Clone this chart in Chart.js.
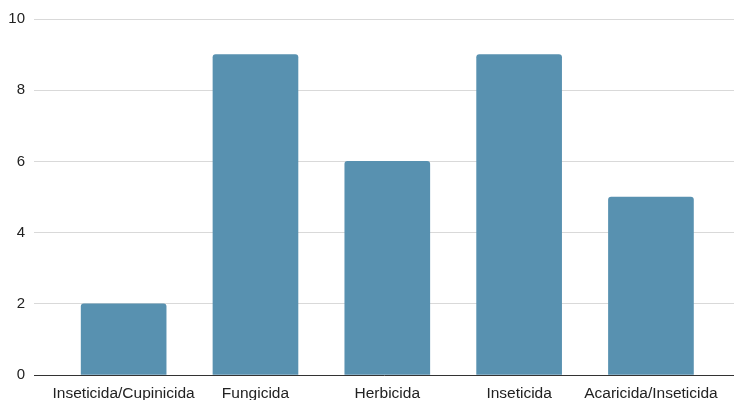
<!DOCTYPE html>
<html>
<head>
<meta charset="utf-8">
<script src="https://cdn.jsdelivr.net/npm/chart.js@4"></script>
<style>
  body { margin: 0; background: #fff; }
</style>
</head>
<body>
<canvas id="myBarChart" width="734" height="400"></canvas>
<script>
// Categories and values
const categories = ['Inseticida/Cupinicida', 'Fungicida', 'Herbicida', 'Inseticida', 'Acaricida/Inseticida'];
const counts = [2, 9, 6, 9, 5];
const yTicks = [0, 2, 4, 6, 8, 10];

const ctx = document.getElementById('myBarChart').getContext('2d');

const config = {
    type: 'bar',
    data: {
        datasets: [{
            data: counts.map((v, i) => ({ x: i, y: v })),
            backgroundColor: '#5891b0',
            borderRadius: { topLeft: 3, topRight: 3 },
            borderSkipped: 'bottom',
            barThickness: 85
        }]
    },
    options: {
        responsive: false,
        animation: false,
        layout: { padding: { top: 19, right: 0, left: 0, bottom: 0 } },
        plugins: {
            legend: { display: false },
            tooltip: { enabled: false }
        },
        scales: {
            x: {
                type: 'linear',
                offset: false,
                min: -0.68,
                max: 4.63,
                grid: { display: false, offset: false },
                border: { display: true, color: '#333', width: 1 },
                afterBuildTicks: (scale) => {
                    scale.ticks = categories.map((_, i) => ({ value: i }));
                },
                afterFit: (scale) => { scale.height = 25; },
                ticks: {
                    autoSkip: false,
                    maxRotation: 0,
                    padding: 1,
                    color: '#222',
                    font: { family: 'Liberation Sans', size: 15.5 },
                    callback: (value) => categories[value] ?? ''
                }
            },
            y: {
                min: 0,
                max: 10,
                afterBuildTicks: (scale) => {
                    scale.ticks = yTicks.map(v => ({ value: v }));
                },
                afterFit: (scale) => { scale.width = 34; },
                grid: { color: '#d9d9d9', drawTicks: false },
                border: { display: false },
                ticks: {
                    padding: 9,
                    color: '#222',
                    font: { family: 'Liberation Sans', size: 15 }
                }
            }
        }
    }
};

new Chart(ctx, config);
</script>
</body>
</html>
